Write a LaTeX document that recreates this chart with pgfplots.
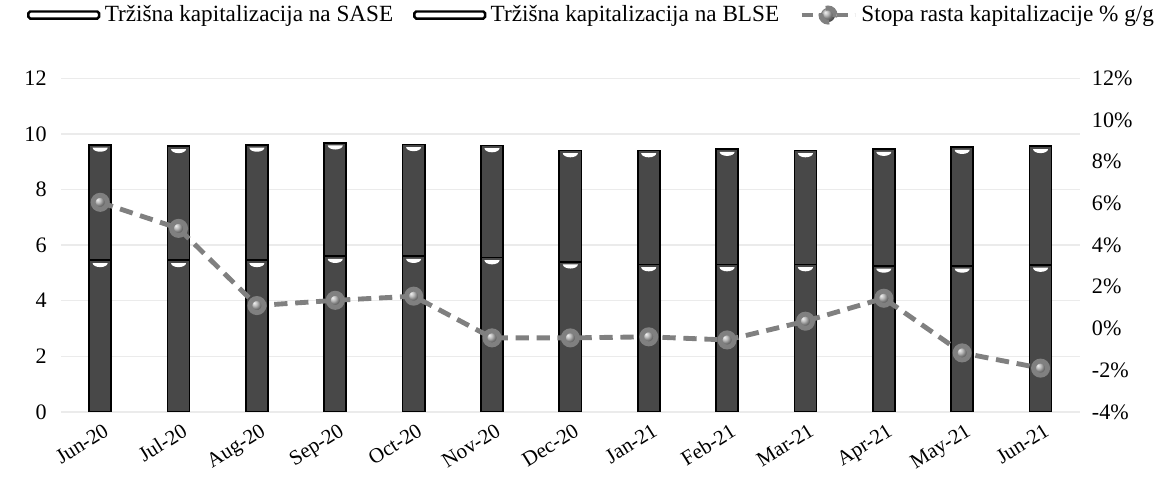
\documentclass[border=0pt]{standalone}
\usepackage{pgfplots}
\pgfplotsset{compat=1.18}
\usepackage{pgfplotstable}
\usepackage{fontspec}
\setmainfont{Liberation Serif}
\usetikzlibrary{plotmarks}

\pgfdeclareplotmark{notch}{%
  \pgfpathmoveto{\pgfqpoint{-\pgfplotmarksize}{0pt}}%
  \pgfpatharc{180}{360}{\pgfplotmarksize and 0.55\pgfplotmarksize}%
  \pgfpathclose
  \pgfusepath{fill}}

\pgfplotstableread{
x sase blse total rate
0  5.45 4.15 9.60  6.05
1  5.45 4.10 9.55  4.80
2  5.45 4.15 9.60  1.10
3  5.60 4.08 9.68  1.35
4  5.60 4.02 9.62  1.55
5  5.55 4.03 9.58 -0.45
6  5.40 4.00 9.40 -0.45
7  5.30 4.10 9.40 -0.40
8  5.30 4.15 9.45 -0.55
9  5.30 4.10 9.40  0.35
10 5.25 4.20 9.45  1.45
11 5.25 4.27 9.52 -1.17
12 5.28 4.27 9.55 -1.90
}\datatable

\definecolor{barfill}{RGB}{72,72,72}
\definecolor{linegray}{RGB}{128,128,128}

\begin{document}
\begin{tikzpicture}
\useasboundingbox (-27.6pt,-30.3pt) rectangle (502.3pt,186.4pt);
\pgfplotsset{
  common/.style={
    scale only axis, width=461pt, height=151pt,
    xmin=-0.5, xmax=12.5,
    axis line style={draw=none},
    tick style={draw=none},
    /pgf/number format/assume math mode=true,
    tick label style={font=\fontsize{10}{12}\selectfont},
  }
}
% bars
\begin{axis}[common,
  ymin=0, ymax=12, ytick={0,2,...,12},
  ymajorgrids, grid style={black!8, line width=0.6pt},
  ybar stacked, bar width=10pt,
  xtick=data,
  xticklabels={Jun-20,Jul-20,Aug-20,Sep-20,Oct-20,Nov-20,Dec-20,Jan-21,Feb-21,Mar-21,Apr-21,May-21,Jun-21},
  xticklabel style={rotate=32, anchor=north east, inner sep=0.5pt, yshift=-4pt, xshift=-1pt, font=\fontsize{9.5}{11}\selectfont},
  xtick pos=bottom,
  yticklabel style={xshift=-3pt},
]
\addplot[fill=barfill, draw=black, line width=0.8pt] table[x=x, y=sase] {\datatable};
\addplot[fill=barfill, draw=black, line width=0.8pt] table[x=x, y=blse] {\datatable};
\end{axis}
% bevel highlights
\begin{axis}[common, hide axis, ymin=0, ymax=12]
\addplot[only marks, mark=notch, mark size=3.4pt,
  mark options={fill=white, draw=none, yshift=-1.2pt}]
  table[x=x, y=sase] {\datatable};
\addplot[only marks, mark=notch, mark size=3.4pt,
  mark options={fill=white, draw=none, yshift=-1.2pt}]
  table[x=x, y=total] {\datatable};
\end{axis}
% line
\begin{axis}[common,
  ymin=-4, ymax=12, ytick={-4,-2,...,12},
  axis y line*=right, axis x line=none,
  yticklabel={\pgfmathprintnumber{\tick}\%},
  yticklabel style={xshift=2pt},
  legend columns=3,
  legend style={draw=none, fill=none, at={(0.522,1.0)}, anchor=south, yshift=20pt,
    font=\fontsize{10.5}{12}\selectfont, inner xsep=0pt,
    /tikz/every even column/.append style={column sep=7pt}},
  legend cell align=left,
]
\addlegendimage{legend image code/.code={
  \draw[draw=black, line width=1.1pt, fill=white, rounded corners=0.8pt] (-7pt,-1.6pt) rectangle (25pt,1.6pt);}}
\addlegendentry{Tržišna kapitalizacija na SASE}
\addlegendimage{legend image code/.code={
  \draw[draw=black, line width=1.1pt, fill=white, rounded corners=0.8pt] (-7pt,-1.6pt) rectangle (25pt,1.6pt);}}
\addlegendentry{Tržišna kapitalizacija na BLSE}
\addplot[color=linegray, line width=2.2pt, dash pattern=on 6pt off 3.5pt,
  mark=ball, mark size=3.2pt, mark options={solid, ball color=linegray!70},
  legend image code/.code={
    \draw[color=linegray, line width=2.2pt, dash pattern=on 5pt off 3pt] (-6pt,0pt) -- (18pt,0pt);
    \shade[ball color=linegray!70] (6pt,0pt) circle (3.2pt);}]
  table[x=x, y=rate] {\datatable};
\addlegendentry{Stopa rasta kapitalizacije \% g/g}
\end{axis}
\end{tikzpicture}
\end{document}
